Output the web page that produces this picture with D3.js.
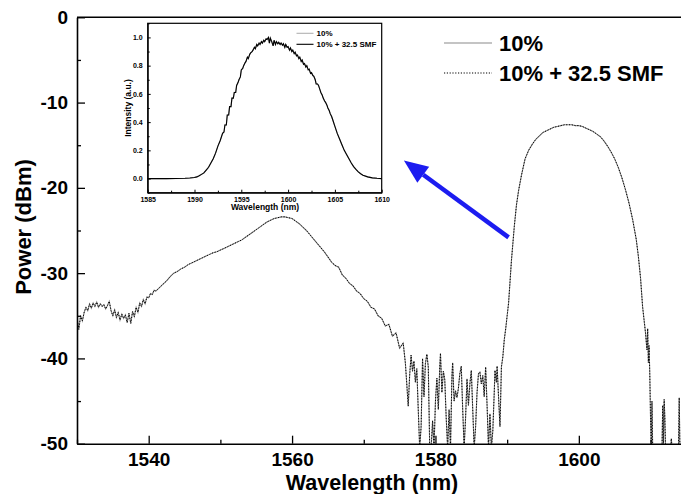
<!DOCTYPE html>
<html>
<head>
<meta charset="utf-8">
<script src="https://cdn.jsdelivr.net/npm/d3@7"></script>
<style>
body { margin: 0; background: #fff; }
svg text { font-family: "Liberation Sans", Arial, sans-serif; font-weight: bold; fill: #000; }
</style>
</head>
<body>
<div id="chart"></div>
<script>
// ---- data ----
// main spectrum [wavelength nm, power dBm]; the "10%" and "10% + 32.5 SMF" traces coincide
var spectrum10 = [
  [1530,-35.2],[1530.25,-36.6],[1530.5,-35.0],[1530.75,-35.6],[1531,-34.6],[1531.25,-34.0],[1531.5,-34.4],[1531.75,-33.6],
  [1532,-34.1],[1532.25,-33.5],[1532.5,-33.9],[1532.75,-33.4],[1533,-34.0],[1533.25,-33.6],[1533.5,-33.9],[1533.75,-33.7],
  [1534,-34.2],[1534.25,-33.8],[1534.5,-33.3],[1534.75,-34.4],[1535,-35.0],[1535.25,-34.3],[1535.5,-35.2],[1535.75,-34.6],
  [1536,-35.5],[1536.25,-34.8],[1536.5,-35.3],[1536.75,-34.9],[1537,-35.8],[1537.25,-34.7],[1537.5,-35.9],[1537.75,-34.5],
  [1538,-35.1],[1538.25,-34.0],[1538.5,-34.6],[1538.75,-33.5],[1539,-33.9],[1539.25,-33.1],[1539.5,-33.6],[1539.75,-32.8],
  [1540,-32.9],[1540.25,-32.4],[1540.5,-32.5],[1540.75,-32.0],[1541,-32.1],
  [1541.5,-31.7],[1542,-31.3],[1542.5,-30.9],[1543,-30.4],[1543.5,-30.0],[1544,-29.8],[1544.5,-29.5],[1545,-29.3],
  [1545.5,-29.0],[1546,-28.8],[1546.5,-28.6],[1547,-28.4],[1547.5,-28.2],[1548,-28.0],[1548.5,-27.8],[1549,-27.6],
  [1549.5,-27.5],[1550,-27.3],[1550.5,-27.1],[1551,-26.9],[1551.5,-26.7],[1552,-26.5],[1552.5,-26.3],[1553,-26.1],
  [1553.5,-25.8],[1554,-25.5],[1554.5,-25.2],[1555,-24.9],[1555.5,-24.6],[1556,-24.3],[1556.5,-24.0],[1557,-23.8],
  [1557.5,-23.6],[1558,-23.5],[1558.5,-23.4],[1559,-23.4],[1559.5,-23.5],[1560,-23.6],[1560.5,-23.9],[1561,-24.2],
  [1561.5,-24.6],[1562,-25.0],[1562.5,-25.5],[1563,-26.0],[1563.5,-26.5],[1564,-27.0],[1564.5,-27.5],[1565,-28.1],
  [1565.5,-28.7],[1566,-29.1],[1566.5,-29.3],[1567,-30.2],[1567.5,-30.6],[1568,-31.2],[1568.5,-31.5],[1569,-32.1],
  [1569.5,-32.4],[1570,-33.0],[1570.5,-33.3],[1571,-34.0],[1571.5,-34.2],[1572,-35.0],[1572.5,-35.3],[1573,-36.2],
  [1573.5,-36.0],[1574,-37.4],[1574.5,-37.0],[1575,-38.8],[1575.5,-38.2],
  [1575.8,-40.5],[1576.0,-43.0],[1576.2,-45.6],[1576.4,-42.0],[1576.6,-39.6],[1576.8,-41.5],[1577.0,-40.3],[1577.2,-42.8],
  [1577.4,-41.2],[1577.6,-46.0],[1577.8,-50.5],[1578.0,-48.0],[1578.2,-40.0],[1578.4,-44.5],[1578.6,-40.6],[1578.8,-39.5],
  [1579.0,-41.0],[1579.2,-50.5],[1579.4,-50.5],[1579.6,-47.3],[1579.8,-50.5],[1580.0,-45.0],[1580.2,-42.3],[1580.4,-46.0],
  [1580.6,-41.0],[1580.7,-39.4],[1580.9,-44.0],[1581.1,-41.5],[1581.3,-42.5],[1581.5,-47.0],[1581.7,-50.5],[1581.9,-46.0],
  [1582.1,-50.5],[1582.3,-42.0],[1582.4,-40.5],[1582.6,-45.0],[1582.8,-43.8],[1583.0,-44.6],[1583.2,-43.5],[1583.4,-41.8],
  [1583.6,-40.9],[1583.8,-46.0],[1584.0,-50.5],[1584.2,-47.0],[1584.4,-42.4],[1584.6,-45.5],[1584.8,-43.0],[1585.0,-41.4],
  [1585.2,-46.0],[1585.4,-50.5],[1585.6,-48.0],[1585.8,-44.0],[1586.0,-41.8],[1586.2,-41.6],[1586.4,-43.0],[1586.6,-42.0],
  [1586.8,-44.5],[1587.0,-41.0],[1587.2,-45.5],[1587.4,-50.5],[1587.6,-46.5],[1587.8,-50.5],[1588.0,-48.5],[1588.2,-44.0],
  [1588.3,-41.4],[1588.5,-42.8],[1588.6,-40.9],[1588.8,-44.5],[1589.0,-48.0],[1589.2,-41.0],[1589.4,-39.8],[1589.6,-37.8],
  [1589.8,-36.5],[1590.0,-35.0],[1590.2,-33.5],
  [1590.4,-31.0],[1590.6,-28.5],[1590.8,-26.5],[1591.0,-24.5],[1591.3,-22.0],[1591.6,-20.3],[1592.0,-18.5],[1592.5,-16.6],
  [1593.0,-15.6],[1593.5,-14.9],[1594.0,-14.3],[1594.5,-13.9],[1595.0,-13.5],[1595.5,-13.3],[1596.0,-13.1],[1596.5,-12.9],
  [1597.0,-12.8],[1597.5,-12.7],[1598.0,-12.6],[1598.5,-12.6],[1599.0,-12.6],[1599.5,-12.7],[1600.0,-12.7],[1600.5,-12.8],
  [1601.0,-13.0],[1601.5,-13.2],[1602.0,-13.4],[1602.5,-13.7],[1603.0,-14.0],[1603.5,-14.5],[1604.0,-15.1],[1604.5,-15.8],
  [1605.0,-16.6],[1605.5,-17.6],[1606.0,-18.8],[1606.5,-20.2],[1607.0,-21.8],[1607.5,-23.7],[1608.0,-26.0],[1608.3,-28.0],
  [1608.6,-30.5],[1608.9,-34.0],[1609.1,-35.5],[1609.3,-37.0],[1609.5,-39.0],[1609.6,-36.5],[1609.7,-40.5],[1609.8,-38.5],
  [1609.9,-42.0],[1610.0,-47.0],[1610.1,-50.5],[1610.2,-45.0],[1610.3,-50.5],
  [1611.0,-50.5],[1611.6,-50.5],[1611.7,-45.5],[1611.8,-50.5],[1611.9,-44.8],[1612.0,-47.0],[1612.1,-50.5],[1612.8,-50.5],
  [1612.9,-49.4],[1613.0,-50.5],[1613.9,-50.5],[1614.0,-44.6],[1614.1,-50.5],[1615.0,-50.5]
];
var spectrumSmf = spectrum10;

// inset: normalised intensity [wavelength nm, a.u.]
var inset10 = [
  [1585,0],[1587,0],[1589,0.002],[1589.5,0.004],[1590,0.008],[1590.25,0.012],[1590.5,0.02],[1590.75,0.03],
  [1591,0.04],[1591.25,0.06],[1591.5,0.08],[1591.75,0.11],[1592,0.14],[1592.25,0.18],[1592.5,0.23],[1592.75,0.27],
  [1593,0.32],[1593.15,0.33],[1593.25,0.38],[1593.4,0.38],[1593.5,0.45],[1593.65,0.45],[1593.75,0.51],[1593.9,0.51],
  [1594,0.57],[1594.15,0.57],[1594.25,0.61],[1594.4,0.61],[1594.5,0.66],[1594.65,0.68],[1594.75,0.70],[1594.9,0.72],
  [1595,0.77],[1595.15,0.78],[1595.25,0.80],[1595.4,0.82],[1595.5,0.83],[1595.65,0.86],[1595.75,0.85],[1595.9,0.88],
  [1596,0.89],[1596.15,0.90],[1596.25,0.91],[1596.4,0.93],[1596.5,0.92],[1596.65,0.95],[1596.75,0.94],[1596.9,0.96],
  [1597,0.95],[1597.15,0.97],[1597.25,0.96],[1597.4,0.98],[1597.5,0.97],[1597.65,0.99],[1597.75,0.985],[1597.9,1.0],
  [1598,0.96],[1598.1,0.995],[1598.25,0.97],[1598.4,0.94],[1598.5,0.98],[1598.65,0.95],[1598.75,0.97],[1598.9,0.955],
  [1599,0.965],[1599.15,0.95],[1599.25,0.96],[1599.4,0.945],[1599.5,0.955],[1599.65,0.93],[1599.75,0.95],[1599.9,0.93],
  [1600,0.935],[1600.15,0.91],[1600.25,0.925],[1600.4,0.90],[1600.5,0.91],[1600.65,0.885],[1600.75,0.895],[1600.9,0.87],
  [1601,0.875],[1601.15,0.85],[1601.25,0.86],[1601.4,0.83],[1601.5,0.84],[1601.65,0.81],[1601.75,0.815],[1601.9,0.79],
  [1602,0.80],[1602.15,0.77],[1602.25,0.775],[1602.4,0.745],[1602.5,0.75],[1602.65,0.73],[1602.75,0.725],[1602.9,0.70],
  [1603,0.67],[1603.15,0.67],[1603.25,0.66],[1603.4,0.63],[1603.5,0.61],[1603.65,0.59],[1603.75,0.57],[1603.9,0.55],
  [1604,0.54],[1604.15,0.52],[1604.25,0.50],[1604.4,0.48],[1604.5,0.46],[1604.65,0.44],[1604.75,0.42],[1605,0.37],
  [1605.25,0.32],[1605.5,0.28],[1605.75,0.24],[1606,0.20],[1606.25,0.17],[1606.5,0.14],[1606.75,0.11],[1607,0.085],
  [1607.25,0.065],[1607.5,0.048],[1607.75,0.034],[1608,0.024],[1608.5,0.012],[1609,0.005],[1609.5,0.002],[1610,0]
];
var insetSmf = inset10;

var seriesNames = ["10%", "10% + 32.5 SMF"];
var xTicks = [1540, 1560, 1580, 1600];
var xMinorTicks = [1530, 1550, 1570, 1590, 1610];
var yTicks = [0, -10, -20, -30, -40, -50];
var yMinorTicks = [-5, -15, -25, -35, -45];
var insetXTicks = [1585, 1590, 1595, 1600, 1605, 1610];
var insetXMinor = [1587.5, 1592.5, 1597.5, 1602.5, 1607.5];
var insetYTicks = [0, 0.2, 0.4, 0.6, 0.8, 1.0];
var insetYMinor = [-0.1, 0.1, 0.3, 0.5, 0.7, 0.9, 1.1];
// blue arrow, in data units of the main plot
var arrowFrom = [1590.2, -25.8];
var arrowTo = [1575.6, -16.8];

// ---- layout ----
var width = 681, height = 494;
var plot = {left: 77, right: 681, top: 17.3, bottom: 443.7};
var ins = {left: 147.7, right: 381.7, top: 23.3, bottom: 192.7};

var svg = d3.select("#chart").append("svg")
  .attr("width", width)
  .attr("height", height);

var x = d3.scaleLinear().domain([1530, 1614.25]).range([plot.left, plot.right]);
var y = d3.scaleLinear().domain([-50, 0]).range([plot.bottom, plot.top]);

svg.append("clipPath").attr("id", "clipMain")
  .append("rect")
  .attr("x", plot.left).attr("y", plot.top)
  .attr("width", plot.right - plot.left).attr("height", plot.bottom - plot.top);

var mainLine = d3.line()
  .x(function(d){ return x(d[0]); })
  .y(function(d){ return y(d[1]); });

svg.append("path")
  .datum(spectrum10)
  .attr("clip-path", "url(#clipMain)")
  .attr("fill", "none")
  .attr("stroke", "#8a8a8a")
  .attr("stroke-width", 1.1)
  .attr("d", mainLine);

svg.append("path")
  .datum(spectrumSmf)
  .attr("clip-path", "url(#clipMain)")
  .attr("fill", "none")
  .attr("stroke", "#000")
  .attr("stroke-width", 1)
  .attr("stroke-dasharray", "1.2,1.6")
  .attr("d", mainLine);

// axes
var xAxis = svg.append("g")
  .attr("transform", "translate(0," + plot.bottom + ")")
  .call(d3.axisBottom(x).tickValues(xTicks).tickSize(-8).tickSizeOuter(0).tickPadding(9)
    .tickFormat(function(d){ return String(d); }));
svg.append("g")
  .attr("transform", "translate(0," + plot.bottom + ")")
  .call(d3.axisBottom(x).tickValues(xMinorTicks).tickSize(-4).tickSizeOuter(0).tickFormat(""))
  .select(".domain").remove();

var yAxis = svg.append("g")
  .attr("transform", "translate(" + plot.left + ",0)")
  .call(d3.axisLeft(y).tickValues(yTicks).tickSize(-8).tickSizeOuter(0).tickPadding(9)
    .tickFormat(function(d){ return String(d); }));
svg.append("g")
  .attr("transform", "translate(" + plot.left + ",0)")
  .call(d3.axisLeft(y).tickValues(yMinorTicks).tickSize(-4).tickSizeOuter(0).tickFormat(""))
  .select(".domain").remove();

svg.selectAll(".domain").attr("stroke-width", 1.6);
svg.selectAll(".tick line").attr("stroke-width", 1.3);
xAxis.selectAll("text").style("font-size", "19px").style("font-weight", "bold");
yAxis.selectAll("text").style("font-size", "19px").style("font-weight", "bold");

svg.append("line")
  .attr("x1", plot.left).attr("x2", plot.right)
  .attr("y1", plot.top).attr("y2", plot.top)
  .attr("stroke", "#000").attr("stroke-width", 1.6);

svg.append("text")
  .attr("x", 372).attr("y", 490)
  .attr("text-anchor", "middle")
  .style("font-size", "21.5px")
  .text("Wavelength (nm)");

svg.append("text")
  .attr("transform", "translate(31,227) rotate(-90)")
  .attr("text-anchor", "middle")
  .style("font-size", "22px")
  .text("Power (dBm)");

// main legend
var legend = svg.append("g");
legend.selectAll("line")
  .data(seriesNames)
  .enter()
  .append("line")
  .attr("x1", 444).attr("x2", 492)
  .attr("y1", function(d, i){ return 43 + i * 30; })
  .attr("y2", function(d, i){ return 43 + i * 30; })
  .attr("stroke", function(d, i){ return i == 0 ? "#8a8a8a" : "#000"; })
  .attr("stroke-width", 1.1)
  .attr("stroke-dasharray", function(d, i){ return i == 0 ? null : "1.2,1.6"; });
legend.selectAll("text")
  .data(seriesNames)
  .enter()
  .append("text")
  .attr("x", 499)
  .attr("y", function(d, i){ return 51 + i * 30; })
  .style("font-size", "22px")
  .text(function(d){ return d; });

// blue arrow
var ax0 = x(arrowFrom[0]), ay0 = y(arrowFrom[1]);
var ax1 = x(arrowTo[0]), ay1 = y(arrowTo[1]);
var ang = Math.atan2(ay1 - ay0, ax1 - ax0);
var headLen = 24, headW = 10;
var bx = ax1 - headLen * Math.cos(ang), by = ay1 - headLen * Math.sin(ang);
svg.append("line")
  .attr("x1", ax0).attr("y1", ay0).attr("x2", bx).attr("y2", by)
  .attr("stroke", "#1c1cf0").attr("stroke-width", 4.5);
svg.append("polygon")
  .attr("points", [
    [ax1, ay1],
    [bx - headW * Math.sin(ang), by + headW * Math.cos(ang)],
    [bx + headW * Math.sin(ang), by - headW * Math.cos(ang)]
  ].map(function(p){ return p.join(","); }).join(" "))
  .attr("fill", "#1c1cf0");

// ---- inset ----
var xi = d3.scaleLinear().domain([1585, 1610]).range([ins.left, ins.right]);
var yi = d3.scaleLinear().domain([-0.1, 1.1]).range([ins.bottom, ins.top]);

svg.append("rect")
  .attr("x", ins.left).attr("y", ins.top)
  .attr("width", ins.right - ins.left).attr("height", ins.bottom - ins.top)
  .attr("fill", "#fff");

var insetLine = d3.line()
  .x(function(d){ return xi(d[0]); })
  .y(function(d){ return yi(d[1]); });

svg.append("path")
  .datum(inset10)
  .attr("fill", "none")
  .attr("stroke", "#b0b0b0")
  .attr("stroke-width", 1.2)
  .attr("d", insetLine);
svg.append("path")
  .datum(insetSmf)
  .attr("fill", "none")
  .attr("stroke", "#000")
  .attr("stroke-width", 1.1)
  .attr("d", insetLine);

var ixAxis = svg.append("g")
  .attr("transform", "translate(0," + ins.bottom + ")")
  .call(d3.axisBottom(xi).tickValues(insetXTicks).tickSize(-3).tickSizeOuter(0).tickPadding(4)
    .tickFormat(function(d){ return String(d); }));
svg.append("g")
  .attr("transform", "translate(0," + ins.bottom + ")")
  .call(d3.axisBottom(xi).tickValues(insetXMinor).tickSize(-2).tickSizeOuter(0).tickFormat(""))
  .select(".domain").remove();
var iyAxis = svg.append("g")
  .attr("transform", "translate(" + ins.left + ",0)")
  .call(d3.axisLeft(yi).tickValues(insetYTicks).tickSize(-3).tickSizeOuter(0).tickPadding(5)
    .tickFormat(d3.format(".1f")));
svg.append("g")
  .attr("transform", "translate(" + ins.left + ",0)")
  .call(d3.axisLeft(yi).tickValues(insetYMinor).tickSize(-2).tickSizeOuter(0).tickFormat(""))
  .select(".domain").remove();
ixAxis.selectAll("text").style("font-size", "7px").style("font-weight", "bold");
iyAxis.selectAll("text").style("font-size", "7px").style("font-weight", "bold");

svg.append("rect")
  .attr("x", ins.left).attr("y", ins.top)
  .attr("width", ins.right - ins.left).attr("height", ins.bottom - ins.top)
  .attr("fill", "none")
  .attr("stroke", "#000")
  .attr("stroke-width", 1.2);

svg.append("text")
  .attr("x", 265).attr("y", 209.5)
  .attr("text-anchor", "middle")
  .style("font-size", "8.5px")
  .text("Wavelength (nm)");
svg.append("text")
  .attr("transform", "translate(130.5,108) rotate(-90)")
  .attr("text-anchor", "middle")
  .style("font-size", "8.5px")
  .text("Intensity (a.u.)");

var insetLegend = svg.append("g");
insetLegend.selectAll("line")
  .data(seriesNames)
  .enter()
  .append("line")
  .attr("x1", 296.5).attr("x2", 313.5)
  .attr("y1", function(d, i){ return 33.3 + i * 11; })
  .attr("y2", function(d, i){ return 33.3 + i * 11; })
  .attr("stroke", function(d, i){ return i == 0 ? "#b0b0b0" : "#000"; })
  .attr("stroke-width", 1.1);
insetLegend.selectAll("text")
  .data(seriesNames)
  .enter()
  .append("text")
  .attr("x", 316.5)
  .attr("y", function(d, i){ return 36.3 + i * 11; })
  .style("font-size", "8px")
  .text(function(d){ return d; });
</script>
</body>
</html>
